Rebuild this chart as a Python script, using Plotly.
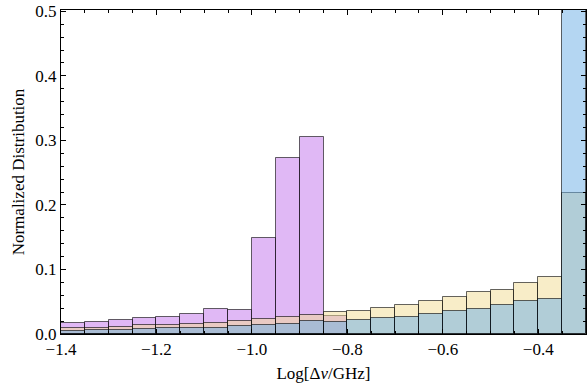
import numpy as np
import plotly.graph_objects as go

# Histogram bins: 0.05-wide bins in log10(Δν / GHz)
bin_edges = [-1.40, -1.35, -1.30, -1.25, -1.20, -1.15, -1.10, -1.05, -1.00, -0.95, -0.90,
             -0.85, -0.80, -0.75, -0.70, -0.65, -0.60, -0.55, -0.50, -0.45, -0.40, -0.35, -0.30]

# Normalized bin fractions for the three distributions (None = empty bin)
purple_vals = [0.0174, 0.0189, 0.0214, 0.0251, 0.0266, 0.0313, 0.0380, 0.0369, 0.149, 0.273, 0.306,
               0.0276, None, None, None, None, None, None, None, None, None, None]
yellow_vals = [0.0096, 0.0100, 0.0110, 0.0137, 0.0147, 0.0152, 0.0168, 0.0209, 0.0225, 0.0260, 0.0287,
               0.0338, 0.0349, 0.0400, 0.0452, 0.0509, 0.0571, 0.0649, 0.0685, 0.0794, 0.0881, 0.218]
blue_vals = [0.0054, 0.0057, 0.0067, 0.0077, 0.0088, 0.0093, 0.0098, 0.0127, 0.0142, 0.0158, 0.0194,
             0.0190, 0.0220, 0.0251, 0.0271, 0.0313, 0.0359, 0.0385, 0.0442, 0.0509, 0.0545, 0.530]

edges = np.array(bin_edges)
centers = (edges[:-1] + edges[1:]) / 2
widths = np.diff(edges)

edge_line = dict(color="rgba(0,0,0,0.6)", width=1)
series = [
    (purple_vals, "rgba(193,113,235,0.5)"),
    (yellow_vals, "rgba(241,219,145,0.5)"),
    (blue_vals, "rgba(105,173,229,0.5)"),
]

fig = go.Figure()
for vals, col in series:
    fig.add_trace(go.Bar(x=centers, y=vals, width=widths,
                         marker=dict(color=col, line=edge_line),
                         showlegend=False, hoverinfo="skip"))

font = dict(family="Liberation Serif", size=17, color="black")
axis_common = dict(showline=True, linecolor="black", linewidth=1, mirror="ticks",
                   ticks="inside", ticklen=5, tickwidth=1, tickcolor="black",
                   showgrid=False, zeroline=False, tickformat=".1f", tickfont=font)

fig.update_layout(
    width=587, height=384,
    margin=dict(l=61, r=1, t=10, b=50),
    paper_bgcolor="white", plot_bgcolor="white",
    barmode="overlay", bargap=0,
    font=font,
    xaxis=dict(range=[edges[0], edges[-1]], tick0=-1.4, dtick=0.2,
               minor=dict(dtick=0.05, tick0=-1.4, ticks="inside", ticklen=3, tickcolor="black"),
               title=dict(text="Log[Δ<i>ν</i>/GHz]", font=font, standoff=8),
               **axis_common),
    yaxis=dict(range=[0, 0.502], tick0=0, dtick=0.1,
               minor=dict(dtick=0.02, tick0=0, ticks="inside", ticklen=3, tickcolor="black"),
               title=dict(text="Normalized Distribution", font=font, standoff=6),
               **axis_common),
)

fig.write_html("out.html")
